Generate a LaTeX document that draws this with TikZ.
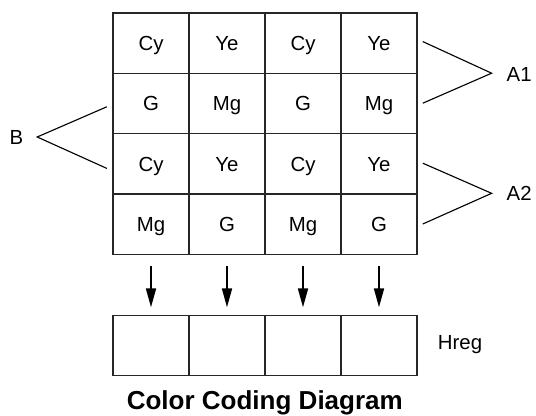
\documentclass[tikz,border=0pt]{standalone}
\usepackage{fontspec}
\setmainfont{Liberation Sans}
\usetikzlibrary{arrows.meta}

\begin{document}
\begin{tikzpicture}

\definecolor{grid_gray}{HTML}{262626}

\tikzset{
  cell/.style={draw=grid_gray, line width=1pt, minimum width=1.9cm, minimum height=1.51cm,
    inner sep=0pt, outer sep=0pt, text depth=0pt, font=\fontsize{14.5}{17}\selectfont},
  lbl/.style={font=\fontsize{14.5}{17}\selectfont},
  fork_line/.style={line width=0.8pt},
  down_arrow/.style={line width=1.1pt, -{Triangle[length=0.47cm, width=0.25cm]},
    shorten <=0.285cm, shorten >=0.2cm}
}

\useasboundingbox (0,0) rectangle (13.4,10.4);

% colour filter array
\foreach \r/\row in {1/{Cy,Ye,Cy,Ye}, 2/{G,Mg,G,Mg}, 3/{Cy,Ye,Cy,Ye}, 4/{Mg,G,Mg,G}} {
  \foreach \t [count=\c] in \row {
    \node[cell] (c\r-\c) at ({3.775+1.9*(\c-1)}, {9.32-1.51*(\r-1)}) {\t};
  }
}

% horizontal register
\foreach \c in {1,...,4} {
  \node[cell] (h\c) at ({3.775+1.9*(\c-1)}, 1.7625) {};
  \draw[down_arrow] (c4-\c) -- (h\c);
}
\node[lbl] (hreg) at (11.5, 1.78) {Hreg};

% line pairs
\node[lbl] (b) at (0.41, 6.975) {B};
\coordinate (b_tip) at (0.93, 6.975);
\coordinate (b_up) at (2.67, 7.73);
\coordinate (b_low) at (2.67, 6.19);
\draw[fork_line] (b_up) -- (b_tip) -- (b_low);

\node[lbl] (a1) at (12.98, 8.55) {A1};
\coordinate (a1_tip) at (12.29, 8.57);
\coordinate (a1_up) at (10.57, 9.36);
\coordinate (a1_low) at (10.57, 7.82);
\draw[fork_line] (a1_up) -- (a1_tip) -- (a1_low);

\node[lbl] (a2) at (12.98, 5.567) {A2};
\coordinate (a2_tip) at (12.29, 5.567);
\coordinate (a2_up) at (10.57, 6.32);
\coordinate (a2_low) at (10.57, 4.8);
\draw[fork_line] (a2_up) -- (a2_tip) -- (a2_low);

\node[font=\fontsize{18.5}{22}\selectfont\bfseries, anchor=base] (title) at (6.62, 0.16) {Color Coding Diagram};

\end{tikzpicture}
\end{document}
